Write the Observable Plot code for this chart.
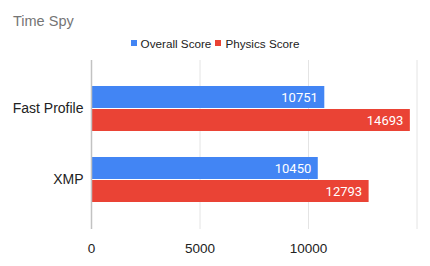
<!DOCTYPE html>
<html>
<head>
<meta charset="utf-8">
<script src="https://cdn.jsdelivr.net/npm/d3@7"></script>
<script src="https://cdn.jsdelivr.net/npm/@observablehq/plot@0.6"></script>
<style>
  body { margin: 0; background: #fff; }
  #wrap { position: relative; width: 430px; height: 266px; font-family: "Liberation Sans", Arial, sans-serif; }
  #title { position: absolute; left: 13px; top: 13px; font-size: 14.5px; color: #757575; }
  #legend { position: absolute; left: 0; width: 430px; top: 37px; text-align: center; font-size: 11.7px; color: #222; }
  #legend span.sw { display: inline-block; width: 6px; height: 6px; margin-right: 4px; vertical-align: 2px; }
  #legend span.item { margin: 0 2px; }
  #chart { position: absolute; left: 0; top: 0; }
</style>
</head>
<body>
<div id="wrap">
  <div id="chart"></div>
  <div id="title">Time Spy</div>
  <div id="legend"></div>
</div>
<script>
const categories = ["Fast Profile", "XMP"];
const seriesNames = ["Overall Score", "Physics Score"];
const overall = [10751, 10450];
const physics = [14693, 12793];
const xTicks = [0, 5000, 10000];
const gridTicks = [5000, 10000, 15000];
const colors = ["#4285F4", "#EA4335"];

const data = categories.map((c, i) => ({category: c, overall: overall[i], physics: physics[i]}));

const legend = document.getElementById("legend");
seriesNames.forEach((s, i) => {
  const item = document.createElement("span");
  item.className = "item";
  item.innerHTML = `<span class="sw" style="background:${colors[i]}"></span>${s}`;
  legend.appendChild(item);
});

const chart = Plot.plot({
  width: 430,
  height: 266,
  marginTop: 60,
  marginBottom: 37,
  marginLeft: 91,
  marginRight: 13.5,
  style: {fontFamily: "'Liberation Sans', Arial, sans-serif", fontSize: "14px", color: "#222", background: "transparent"},
  x: {domain: [0, 15000]},
  y: {domain: categories, paddingInner: 0.36, paddingOuter: 0.354},
  marks: [
    Plot.ruleX(gridTicks, {stroke: "#e4e4e4", strokeWidth: 1}),
    Plot.barX(data, {y: "category", x: "overall", fill: colors[0], insetBottom: 23}),
    Plot.barX(data, {y: "category", x: "physics", fill: colors[1], insetTop: 23}),
    Plot.text(data, {y: "category", x: "overall", text: d => String(d.overall), textAnchor: "end", dx: -7, dy: -11.5, fill: "#fff", fontSize: 13, fontFamily: "Roboto, sans-serif"}),
    Plot.text(data, {y: "category", x: "physics", text: d => String(d.physics), textAnchor: "end", dx: -7, dy: 11.5, fill: "#fff", fontSize: 13, fontFamily: "Roboto, sans-serif"}),
    Plot.ruleX([0], {stroke: "#c2c2c2", strokeWidth: 1.5}),
    Plot.axisY({tickSize: 0, tickPadding: 8, label: null, fontSize: 14}),
    Plot.axisX({ticks: xTicks, tickSize: 0, tickPadding: 14, label: null, tickFormat: d => String(d), fontSize: 13.5})
  ]
});
document.getElementById("chart").appendChild(chart);
</script>
</body>
</html>
